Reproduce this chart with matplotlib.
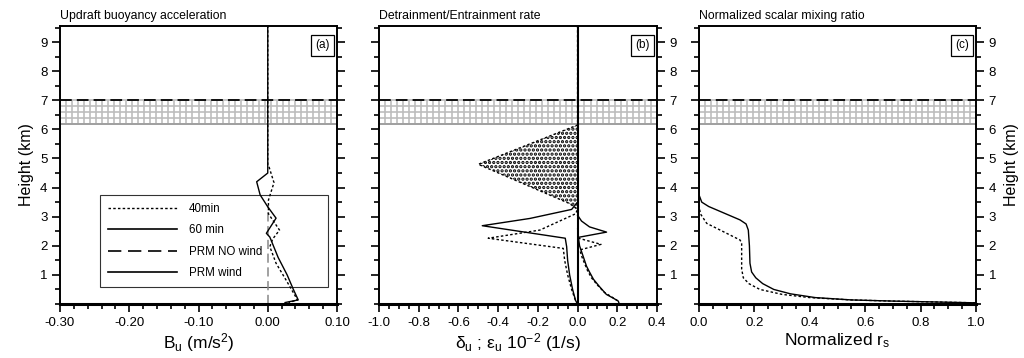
import numpy as np
import matplotlib
matplotlib.use("Agg")
import matplotlib.pyplot as plt
from matplotlib.lines import Line2D
from matplotlib.ticker import MultipleLocator, FixedLocator, FormatStrFormatter

plt.rcParams['font.family'] = ['Liberation Sans', 'DejaVu Sans']
plt.rcParams['mathtext.fontset'] = 'custom'
plt.rcParams['mathtext.rm'] = 'Liberation Sans'
plt.rcParams['mathtext.it'] = 'Liberation Sans'
plt.rcParams['axes.unicode_minus'] = False
plt.rcParams['hatch.linewidth'] = 1.6

# ---- data ----
htop = 9.57
band_lo, band_hi = 6.2, 7.0       # grey hatched layer
prm_top = 7.0                      # dashed line

# (a) updraft buoyancy acceleration
a60_x = [0, 0, -0.016, -0.011, 0, 0.012, -0.002, 0.003, 0.015, 0.028, 0.037, 0.044, 0.025]
a60_h = [htop, 4.5, 4.2, 3.75, 3.34, 2.95, 2.43, 2.3, 1.6, 1.0, 0.5, 0.14, 0.05]
a40_x = [0, 0, 0.002, 0.009, 0.001, 0.001, 0.017, 0.007, 0.003, 0.012, 0.027, 0.043, 0.03]
a40_h = [htop, 4.8, 4.7, 4.17, 3.57, 3.1, 2.54, 2.23, 1.97, 1.4, 0.8, 0.14, 0.05]
a_prm_x = [0, 0]
a_prm_h = [0, 3.4]

# (b) detrainment (negative) / entrainment (positive)
b_det40_x = [0, 0, -0.5, -0.04, 0, -0.01, -0.19, -0.45, -0.072, -0.065, -0.05, -0.03, -0.012, 0]
b_det40_h = [htop, 6.15, 4.8, 3.45, 3.25, 3.1, 2.54, 2.26, 1.91, 1.5, 1.0, 0.5, 0.15, 0]
b_fill_x = [0, -0.5, -0.04, 0]
b_fill_h = [6.15, 4.8, 3.45, 3.25]
b_det60_x = [0, -0.03, -0.24, -0.48, -0.062, -0.055, -0.05, -0.04, -0.025, -0.01, 0]
b_det60_h = [3.5, 3.25, 2.94, 2.69, 2.26, 1.97, 1.5, 1.0, 0.5, 0.12, 0]
b_ent60_x = [0, 0.02, 0.06, 0.146, 0.004, 0.01, 0.02, 0.03, 0.045, 0.06, 0.08, 0.11, 0.145, 0.18, 0.205, 0.21]
b_ent60_h = [3.05, 2.85, 2.65, 2.47, 2.29, 2.0, 1.8, 1.6, 1.3, 1.1, 0.85, 0.6, 0.33, 0.2, 0.1, 0.0]
b_ent40_x = [0, 0.005, 0.118, 0.012, 0.02, 0.035, 0.05, 0.07, 0.1, 0.135, 0.17, 0.2]
b_ent40_h = [2.6, 2.26, 2.05, 1.86, 1.65, 1.4, 1.15, 0.9, 0.65, 0.4, 0.25, 0.12]

# (c) normalized scalar mixing ratio
c60_x = [0, 0, 0.01, 0.035, 0.148, 0.17, 0.178, 0.182, 0.184, 0.19, 0.205, 0.23, 0.27, 0.33, 0.42, 0.55, 0.7, 0.85, 1.0]
c60_h = [htop, 3.75, 3.5, 3.35, 2.89, 2.75, 2.54, 2.0, 1.4, 1.1, 0.9, 0.7, 0.5, 0.35, 0.22, 0.14, 0.1, 0.07, 0.04]
c40_x = [0, 0, 0.005, 0.028, 0.148, 0.154, 0.154, 0.16, 0.18, 0.22, 0.3, 0.4, 0.55, 0.7, 0.85, 1.0]
c40_h = [htop, 3.4, 3.1, 2.77, 2.2, 2.1, 1.2, 0.9, 0.7, 0.5, 0.33, 0.22, 0.14, 0.1, 0.07, 0.04]

dot = (0, (1.8, 1.6))
fig = plt.figure(figsize=(10.24, 3.58), dpi=100)

W, H, B = 277 / 1024, 278.5 / 358, 54 / 358
ax_a = fig.add_axes([60 / 1024, B, W, H])
ax_b = fig.add_axes([379 / 1024, B, 278 / 1024, H])
ax_c = fig.add_axes([699 / 1024, B, W, H])

setups = [
    (ax_a, (-0.30, 0.10), 0.10, 0.02, '%.2f', 'Updraft buoyancy acceleration', '(a)',
     'B$_{\\mathrm{u}}$ (m/s$^{2}$)'),
    (ax_b, (-1.0, 0.4), 0.2, 0.05, '%.1f', 'Detrainment/Entrainment rate', '(b)',
     'δ$_{\\mathrm{u}}$ ; ε$_{\\mathrm{u}}$ 10$^{-2}$ (1/s)'),
    (ax_c, (0.0, 1.0), 0.2, 0.05, '%.1f', 'Normalized scalar mixing ratio', '(c)',
     'Normalized r$_{\\mathrm{s}}$'),
]

for ax, xl, maj, mnr, fmt, title, tag, xlab in setups:
    ax.set_xlim(*xl)
    ax.set_ylim(0, htop)
    ax.xaxis.set_major_locator(MultipleLocator(maj))
    ax.xaxis.set_minor_locator(MultipleLocator(mnr))
    ax.xaxis.set_major_formatter(FormatStrFormatter(fmt))
    ax.yaxis.set_major_locator(FixedLocator(range(1, 10)))
    ax.yaxis.set_minor_locator(MultipleLocator(0.5))
    ax.tick_params(which='both', direction='out', left=True, right=True, top=False,
                   width=1.2, labelsize=9.5, pad=3)
    ax.tick_params(which='major', length=6)
    ax.tick_params(which='minor', length=3.5)
    for s in ax.spines.values():
        s.set_linewidth(1.4)
    ax.spines['bottom'].set_linewidth(2.2)
    ax.set_title(title, loc='left', fontsize=8.8, pad=5)
    ax.set_xlabel(xlab, fontsize=12.5, labelpad=2)
    ax.text(0.975, 0.95, tag, transform=ax.transAxes, ha='right', va='top', fontsize=8.5,
            bbox=dict(boxstyle='square,pad=0.35', fc='white', ec='black', lw=0.9))

    # grey grid layer
    xs = np.linspace(xl[0], xl[1], 47)
    ax.vlines(xs, band_lo, band_hi, colors='#bdbdbd', lw=1.2, zorder=1)
    for yy in np.arange(band_lo, band_hi + 0.01, 0.2):
        ax.axhline(yy, color='#bdbdbd', lw=1.2, zorder=1)
    ax.axhline(band_lo, color='#a0a0a0', lw=1.4, zorder=1)
    ax.axhline(prm_top, color='black', lw=1.3, ls=(0, (6.5, 2.8)), zorder=3)

ax_a.tick_params(labelleft=True, labelright=False)
ax_a.set_ylabel('Height (km)', fontsize=11.5, labelpad=4)
ax_b.tick_params(labelleft=False, labelright=True)
ax_c.tick_params(labelleft=False, labelright=True)
ax_c.yaxis.set_label_position('right')
ax_c.set_ylabel('Height (km)', fontsize=11.5, labelpad=6)

# (a)
handles = [Line2D([], [], color='black', lw=1.0, ls=dot),
           Line2D([], [], color='black', lw=1.2),
           Line2D([], [], color='black', lw=1.2, ls=(0, (8, 4))),
           Line2D([], [], color='black', lw=1.2)]
labels = ['40min', '60 min', 'PRM NO wind', 'PRM wind']
leg = ax_a.legend(handles, labels, loc='lower left', bbox_to_anchor=(0.144, 0.061, 0.823, 0.33),
                  mode='expand', borderaxespad=0, handlelength=6.0, handletextpad=1.0,
                  fontsize=8.3, labelspacing=0.8, borderpad=0.7, fancybox=False,
                  facecolor='none', framealpha=None, edgecolor='black')
leg.get_frame().set_linewidth(0.8)
leg.set_zorder(1.5)
ax_a.plot(a_prm_x, a_prm_h, color='#888888', lw=1.1, ls=(0, (6, 3)), zorder=2)
ax_a.plot(a40_x, a40_h, color='black', lw=1.0, ls=dot, zorder=4)
ax_a.plot(a60_x, a60_h, color='black', lw=1.0, zorder=4)

# (b)
ax_b.axvline(0, color='black', lw=1.5, zorder=5)
ax_b.fill_betweenx(b_fill_h, b_fill_x, 0, facecolor='none', edgecolor='black', hatch='....',
                   lw=0, zorder=2)
ax_b.plot(b_det40_x, b_det40_h, color='black', lw=1.0, ls=dot, zorder=4)
ax_b.plot(b_det60_x, b_det60_h, color='black', lw=1.0, zorder=4)
ax_b.plot(b_ent40_x, b_ent40_h, color='black', lw=1.0, ls=dot, zorder=4)
ax_b.plot(b_ent60_x, b_ent60_h, color='black', lw=1.0, zorder=4)

# (c)
ax_c.plot(c40_x, c40_h, color='black', lw=1.0, ls=dot, zorder=4)
ax_c.plot(c60_x, c60_h, color='black', lw=1.0, zorder=4)

fig.savefig('out.png', dpi=100)
